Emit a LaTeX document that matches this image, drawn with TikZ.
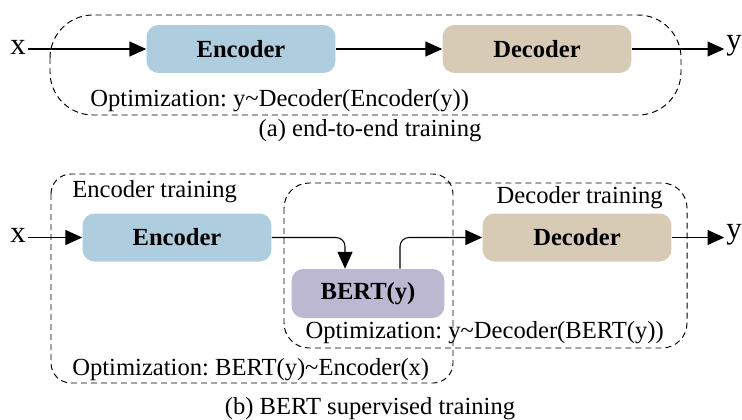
\documentclass[tikz,border=0pt]{standalone}
\usepackage{fontspec}
\setmainfont{Liberation Serif}
\usepackage{tikz}
\usetikzlibrary{arrows.meta}
\frenchspacing

\definecolor{encblue}{RGB}{174,205,222}
\definecolor{decbrown}{RGB}{215,203,181}
\definecolor{bertpurple}{RGB}{188,184,210}

\begin{document}
\begin{tikzpicture}[x=0.02cm,y=-0.02cm,
    font=\fontsize{14}{16}\selectfont,
    block/.style={rounded corners=0.24cm,minimum width=3.78cm,minimum height=0.96cm,inner sep=0,font=\fontsize{14}{16}\selectfont\bfseries},
    io/.style={inner sep=1pt,font=\fontsize{17.5}{20}\selectfont},
    txt/.style={inner sep=0},
    frame/.style={dashed,dash pattern=on 3.4pt off 2.3pt,line width=0.55pt,black},
    flow/.style={-{Triangle[length=9.5pt,width=8.5pt]},line width=0.6pt}]
        \useasboundingbox (0,0) rectangle (742,419);
        % (a) end-to-end
        \node[io] (x1) at (18,47) {x};
        \node[block,fill=encblue] (enc1) at (241,49) {Encoder};
        \node[block,fill=decbrown] (dec1) at (537,49) {Decoder};
        \node[io] (y1) at (734,46) {y};
        \draw[flow] (x1.east |- enc1) -- (enc1);
        \draw[flow] (enc1) -- (dec1);
        \draw[flow] (dec1) -- (y1.west |- dec1);
        \draw[frame,rounded corners=0.86cm] (50,15) rectangle (681,115);
        \node[txt,anchor=west] (opt1) at (90,101) {Optimization: y\textasciitilde Decoder(Encoder(y))};
        \node[txt] (capa) at (370,131) {(a) end-to-end training};
        % (b) BERT supervised
        \node[io] (x2) at (18,235.5) {x};
        \node[block,fill=encblue] (enc2) at (177,237.5) {Encoder};
        \node[block,fill=bertpurple,minimum width=3.06cm,minimum height=0.98cm] (bert) at (368,293.5) {BERT(y)};
        \node[block,fill=decbrown] (dec2) at (577,237.5) {Decoder};
        \node[io] (y2) at (734,234.5) {y};
        \draw[flow] (x2.east |- enc2) -- (enc2);
        \draw[flow,rounded corners=0.18cm] (enc2.east) -| ([xshift=-0.46cm]bert.north);
        \draw[flow,rounded corners=0.18cm] ([xshift=0.64cm]bert.north) |- (dec2.west);
        \draw[flow] (dec2) -- (y2.west |- dec2);
        \draw[frame,rounded corners=0.4cm] (51,174) rectangle (453,383);
        \draw[frame,rounded corners=0.5cm] (284,183) rectangle (687,348);
        \node[txt,anchor=west] (enctr) at (72,192) {Encoder training};
        \node[txt,anchor=east] (dectr) at (663,198) {Decoder training};
        \node[txt,anchor=west] (opt2) at (72,370) {Optimization: BERT(y)\textasciitilde Encoder(x)};
        \node[txt,anchor=east] (opt3) at (664,333) {Optimization: y\textasciitilde Decoder(BERT(y))};
        \node[txt] (capb) at (370,409) {(b) BERT supervised training};
      \end{tikzpicture}
\end{document}
